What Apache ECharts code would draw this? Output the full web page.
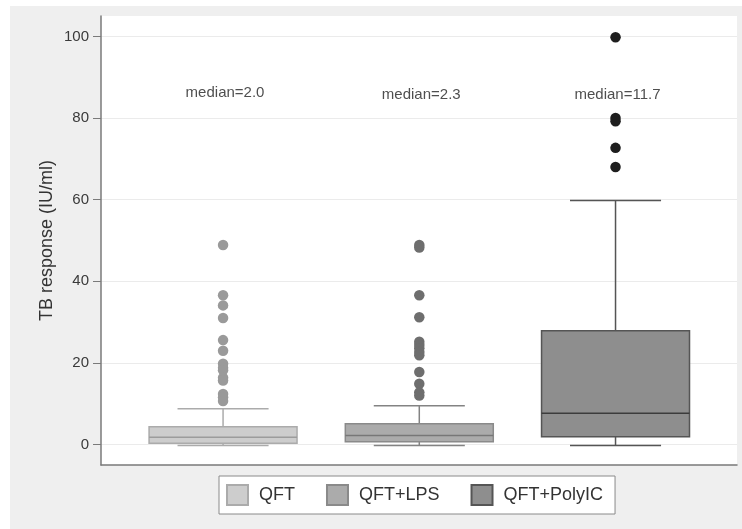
<!DOCTYPE html>
<html lang="en">
<head>
    <meta charset="UTF-8">
    <title>TB response</title>
    <script src="https://cdn.jsdelivr.net/npm/echarts@6/dist/echarts.min.js"></script>
    <style>
        html, body { margin: 0; padding: 0; background: #ffffff; }
        #chart { position: absolute; left: 10px; top: 6px; width: 732px; height: 523px; }
    </style>
</head>
<body>
<div id="chart"></div>
<script>
    // groups
    var categories = ['QFT', 'QFT+LPS', 'QFT+PolyIC'];
    // [low, q1, median, q3, high]
    var boxQFT = [-0.2, 0.3, 1.8, 4.4, 8.8];
    var boxLPS = [-0.2, 0.7, 2.2, 5.1, 9.5];
    var boxPolyIC = [-0.2, 1.9, 7.7, 27.9, 59.8];
    // outliers
    var outQFT = [48.9, 36.6, 34.1, 31.0, 25.6, 23.0, 19.8, 18.8, 18.2, 16.4, 15.7, 12.4, 11.6, 10.7];
    var outLPS = [48.9, 48.3, 36.6, 31.2, 25.2, 24.4, 23.6, 22.7, 21.9, 17.8, 14.9, 12.8, 12.0];
    var outPolyIC = [99.8, 80.0, 79.2, 72.7, 68.0];
    // median labels
    var medianText = ['median=2.0', 'median=2.3', 'median=11.7'];
    var medianTextY = [86.2, 85.6, 85.6];
    var yTicks = [0, 20, 40, 60, 80, 100];

    var boxes = [boxQFT, boxLPS, boxPolyIC];
    var outliers = [outQFT, outLPS, outPolyIC];

    var styles = [
        {fill: '#cdcdcd', border: '#ababab', whisker: '#ababab', median: '#9c9c9c', dot: '#9a9a9a'},
        {fill: '#ababab', border: '#8a8a8a', whisker: '#838383', median: '#777777', dot: '#6e6e6e'},
        {fill: '#8e8e8e', border: '#555555', whisker: '#555555', median: '#3c3c3c', dot: '#1e1e1e'}
    ];

    var chart = echarts.init(document.getElementById('chart'));

    function renderBox(params, api) {
        var st = styles[params.seriesIndex];
        var x = api.value(0);
        var low = api.coord([x, api.value(1)]);
        var q1 = api.coord([x, api.value(2)]);
        var med = api.coord([x, api.value(3)]);
        var q3 = api.coord([x, api.value(4)]);
        var high = api.coord([x, api.value(5)]);
        var halfW = api.size([0.377, 0])[0];
        var capW = api.size([0.232, 0])[0];
        var ls = {stroke: st.whisker, lineWidth: 1.5};
        return {
            type: 'group',
            children: [
                {type: 'line', shape: {x1: high[0], y1: high[1], x2: q3[0], y2: q3[1]}, style: ls},
                {type: 'line', shape: {x1: low[0], y1: low[1], x2: q1[0], y2: q1[1]}, style: ls},
                {type: 'line', shape: {x1: high[0] - capW, y1: high[1], x2: high[0] + capW, y2: high[1]}, style: ls},
                {type: 'line', shape: {x1: low[0] - capW, y1: low[1], x2: low[0] + capW, y2: low[1]}, style: ls},
                {type: 'rect', shape: {x: q3[0] - halfW, y: q3[1], width: halfW * 2, height: q1[1] - q3[1]},
                    style: {fill: st.fill, stroke: st.border, lineWidth: 1.5}},
                {type: 'line', shape: {x1: med[0] - halfW, y1: med[1], x2: med[0] + halfW, y2: med[1]},
                    style: {stroke: st.median, lineWidth: 1.5}}
            ]
        };
    }

    var series = [];
    categories.forEach(function (name, i) {
        series.push({
            name: name,
            type: 'custom',
            renderItem: renderBox,
            itemStyle: {color: styles[i].fill, borderColor: styles[i].border, borderWidth: 1.5},
            encode: {x: 0, y: [1, 2, 3, 4, 5]},
            data: [[i + 1].concat(boxes[i])],
            z: 2
        });
    });
    categories.forEach(function (name, i) {
        series.push({
            name: name,
            type: 'scatter',
            symbol: 'circle',
            symbolSize: 10.5,
            itemStyle: {color: styles[i].dot, opacity: 1},
            data: outliers[i].map(function (v) { return [i + 1, v]; }),
            z: 3
        });
    });
    series.push({
        name: 'labels',
        type: 'scatter',
        symbolSize: 0,
        silent: true,
        label: {
            show: true,
            position: 'inside',
            formatter: function (p) { return p.value[2]; },
            fontFamily: 'Liberation Sans',
            fontSize: 15,
            color: '#222222'
        },
        data: medianText.map(function (t, i) { return [i + 1.01, medianTextY[i], t]; })
    });

    var option = {
        backgroundColor: '#efefef',
        animation: false,
        textStyle: {fontFamily: 'Liberation Sans'},
        legend: {
            data: categories,
            left: 209,
            top: 470,
            icon: 'rect',
            itemWidth: 21,
            itemHeight: 20,
            itemGap: 31,
            padding: [8, 12, 8, 7],
            backgroundColor: '#ffffff',
            borderColor: '#8a8a8a',
            borderWidth: 1,
            textStyle: {fontSize: 18, color: '#333333', padding: [0, 0, 0, 6]}
        },
        grid: {
            left: 91,
            right: 5,
            top: 10,
            bottom: 64,
            show: true,
            backgroundColor: '#ffffff',
            borderWidth: 0
        },
        xAxis: {
            type: 'value',
            min: 0.378,
            max: 3.619,
            axisLine: {show: true, onZero: false, lineStyle: {color: '#7a7a7a', width: 1.5}},
            axisTick: {show: false},
            axisLabel: {show: false},
            splitLine: {show: false}
        },
        yAxis: {
            type: 'value',
            min: -5,
            max: 105,
            interval: 20,
            name: 'TB response (IU/ml)',
            nameLocation: 'middle',
            nameGap: 45,
            nameMoveOverlap: false,
            nameTextStyle: {fontSize: 18, color: '#333333'},
            axisLine: {show: true, onZero: false, lineStyle: {color: '#7a7a7a', width: 1.5}},
            axisTick: {show: true, length: 8, lineStyle: {color: '#7a7a7a'},
                customValues: yTicks},
            axisLabel: {
                margin: 12,
                fontSize: 15,
                color: '#3a3a3a',
                customValues: yTicks
            },
            splitLine: {show: true, lineStyle: {color: '#ebebeb', width: 1}}
        },
        series: series
    };
    chart.setOption(option);

    window.onresize = function () {
        chart.resize();
    };
</script>
</body>
</html>
